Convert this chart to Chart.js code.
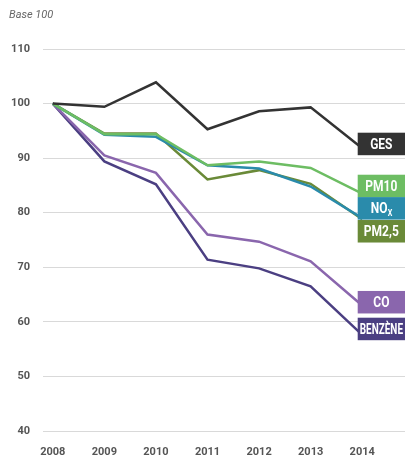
<!DOCTYPE html>
<html>
<head>
<meta charset="utf-8">
<script src="https://cdn.jsdelivr.net/npm/chart.js@4"></script>
<style>
  html, body { margin: 0; padding: 0; background: #fff; }
  #wrap { width: 405px; height: 459px; }
</style>
</head>
<body>
<div id="wrap"><canvas id="chart"></canvas></div>
<script>
// indices base 100 en 2008
var years = [2008, 2009, 2010, 2011, 2012, 2013, 2014];
var ges = [100, 99.4, 103.9, 95.3, 98.6, 99.3, 91.8];
var pm10 = [100, 94.4, 94.4, 88.7, 89.4, 88.2, 83.5];
var nox = [100, 94.3, 93.9, 88.7, 88.1, 84.8, 79.0];
var pm25 = [100, 94.5, 94.5, 86.1, 87.8, 85.3, 78.8];
var co = [100, 90.5, 87.3, 76.0, 74.7, 71.1, 63.0];
var benzene = [100, 89.4, 85.2, 71.4, 69.8, 66.5, 57.6];
var names = ["GES", "PM10", "NOx", "PM2,5", "CO", "BENZÈNE"];
var yTicks = [40, 50, 60, 70, 80, 90, 100, 110];

var colors = ["#333333", "#6dbd63", "#2a8bab", "#6a8a38", "#8a66ad", "#4b3f82"];
var series = [ges, pm10, nox, pm25, co, benzene];
var font = "Roboto, 'DejaVu Sans', sans-serif";

function points(vals) {
  return vals.map(function (v, i) { return { x: years[i], y: v }; });
}

// étiquettes en bout de courbe (texte resserré à la main, pas de police condensée)
var endLabels = {
  id: "endLabels",
  afterDatasetsDraw: function (chart, args, opts) {
    var ctx = chart.ctx;
    var xs = chart.scales.x, ys = chart.scales.y;
    var x0 = xs.getPixelForValue(years[years.length - 1]) - 4.5;
    var x1 = chart.chartArea.right;
    var h = 22.5;
    var cx = (x0 + x1) / 2;
    ctx.save();
    names.forEach(function (name, i) {
      var cy = ys.getPixelForValue(opts.at[i]);
      ctx.fillStyle = colors[i];
      ctx.fillRect(x0, cy - h / 2, x1 - x0, h);
      ctx.fillStyle = "#fff";
      ctx.textBaseline = "middle";
      ctx.save();
      ctx.translate(cx, cy + 1);
      if (name === "NOx") {
        ctx.scale(0.8, 1);
        ctx.font = "bold 15px " + font;
        var w1 = ctx.measureText("NO").width;
        ctx.font = "bold 9px " + font;
        var w2 = ctx.measureText("X").width;
        var sx = -(w1 + w2) / 2;
        ctx.textAlign = "left";
        ctx.font = "bold 15px " + font;
        ctx.fillText("NO", sx, 0);
        ctx.font = "bold 9px " + font;
        ctx.fillText("X", sx + w1 + 0.5, 4);
      } else {
        ctx.font = "bold 15px " + font;
        var w = ctx.measureText(name).width;
        var k = Math.min(0.8, (x1 - x0 - 4) / w);
        ctx.scale(k, 1);
        ctx.textAlign = "center";
        ctx.fillText(name, 0, 0);
      }
      ctx.restore();
    });
    ctx.restore();
  }
};

var baseText = {
  id: "baseText",
  afterDraw: function (chart) {
    var ctx = chart.ctx;
    ctx.save();
    ctx.fillStyle = "#666";
    ctx.font = "italic 11px " + font;
    ctx.textBaseline = "alphabetic";
    ctx.textAlign = "left";
    ctx.fillText("Base 100", 9, 18);
    ctx.restore();
  }
};

new Chart(document.getElementById("chart"), {
  type: "line",
  data: {
    datasets: series.map(function (s, i) {
      return {
        label: names[i],
        data: points(s),
        borderColor: colors[i],
        borderWidth: 2.5,
        pointRadius: 0,
        tension: 0,
        fill: false
      };
    })
  },
  options: {
    responsive: true,
    maintainAspectRatio: false,
    animation: false,
    layout: { padding: { top: 49, left: 0, right: 0, bottom: 0 } },
    plugins: {
      legend: { display: false },
      tooltip: { enabled: false },
      endLabels: { at: [92.6, 84.9, 80.8, 76.6, 63.6, 58.7] }
    },
    scales: {
      x: {
        type: "linear",
        min: 2007.81,
        max: 2014.83,
        afterBuildTicks: function (scale) {
          scale.ticks = years.map(function (y) { return { value: y }; });
        },
        afterFit: function (scale) { scale.height = 28; },
        grid: { display: false },
        border: { display: false },
        ticks: {
          padding: 7,
          color: "#555",
          font: { family: font, size: 11, weight: "bold" },
          callback: function (v) { return String(v); }
        }
      },
      y: {
        min: 40,
        max: 110,
        afterBuildTicks: function (scale) {
          scale.ticks = yTicks.map(function (v) { return { value: v }; });
        },
        afterFit: function (scale) { scale.width = 43; },
        grid: { color: "#d9d9d9", lineWidth: 1, drawTicks: false },
        border: { display: false },
        ticks: {
          padding: 13,
          color: "#555",
          font: { family: font, size: 11, weight: "bold" }
        }
      }
    }
  },
  plugins: [endLabels, baseText]
});
</script>
</body>
</html>
